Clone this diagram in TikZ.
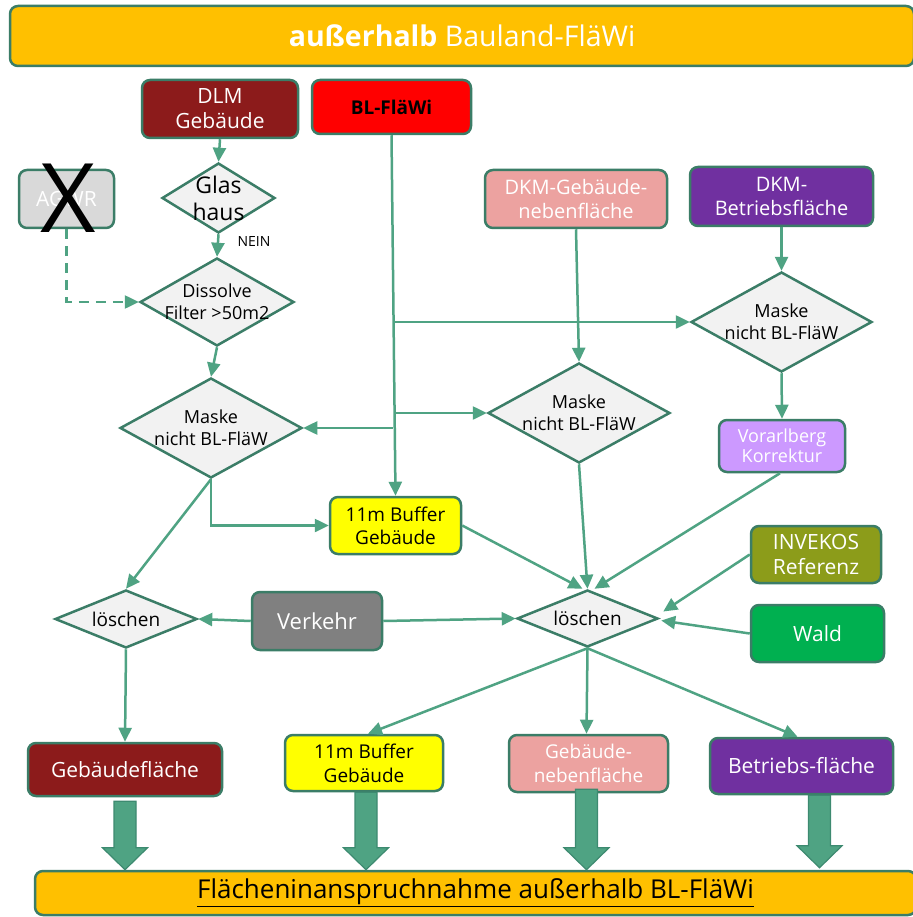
\documentclass[tikz,border=0pt]{standalone}
\usepackage{fontspec}
\setmainfont{Open Sans}
\usetikzlibrary{arrows.meta,shapes.geometric,calc}

\definecolor{bannerfill}{HTML}{FFC000}
\definecolor{edgecol}{HTML}{3B7D67}
\definecolor{wirecol}{HTML}{4FA383}
\definecolor{dlmred}{HTML}{8C1B1B}
\definecolor{blred}{HTML}{FF0000}
\definecolor{agwrgray}{HTML}{D9D9D9}
\definecolor{pinkfill}{HTML}{ECA2A0}
\definecolor{purplefill}{HTML}{7030A0}
\definecolor{lilac}{HTML}{CC99FF}
\definecolor{yellowfill}{HTML}{FFFF00}
\definecolor{roadgray}{HTML}{808080}
\definecolor{olive}{HTML}{8C9C1A}
\definecolor{forest}{HTML}{00B050}
\definecolor{diafill}{HTML}{F2F2F2}
\definecolor{fatfill}{HTML}{4FA383}
\definecolor{fatedge}{HTML}{3D8A70}

\newcommand\fsz[2]{\fontsize{#1pt}{#2pt}\selectfont}

% broad block arrow from a start point down to an end point
\newcommand\fatarrow[2]{%
  \path[fatarr] let \p1=#1, \p2=#2 in
    (\x1-11pt,\y1) -- (\x1+11pt,\y1) -- (\x1+11pt,\y2+22pt) -- (\x1+22.5pt,\y2+22pt)
    -- (\x1,\y2) -- (\x1-22.5pt,\y2+22pt) -- (\x1-11pt,\y2+22pt) -- cycle;}

\begin{document}
\begin{tikzpicture}[x=1pt,y=-1pt,
  box/.style={draw=edgecol, line width=2.5pt, rounded corners=8pt, align=center,
    inner sep=0pt, text=white, font=\fsz{21}{25}},
  dia/.style={diamond, draw=edgecol, line width=2.5pt, fill=diafill, inner sep=0pt},
  dtext/.style={align=center, inner sep=0pt, text=black, font=\fsz{18}{22}},
  arr/.style={draw=wirecol, line width=2.5pt, -{Triangle[length=14pt,width=13pt]}},
  fatarr/.style={fill=fatfill, draw=fatedge, line width=1.2pt},
]
\useasboundingbox (0,0) rectangle (912,917);
\fill[white] (0,0) rectangle (912,917);

% banners
\node[box, fill=bannerfill, minimum width=904pt, minimum height=60pt, font=\fsz{28.5}{33}]
  (top) at (462,36) {\textbf{außerhalb} Bauland-FläWi};
\node[box, fill=bannerfill, minimum width=881pt, minimum height=44pt, text=black, font=\fsz{26}{30}]
  (bot) at (475.5,893) {\underline{Flächeninanspruchnahme außerhalb BL-FläWi}};

% input boxes
\node[box, fill=dlmred, minimum width=156pt, minimum height=58pt] (dlm) at (220,109) {DLM\\Gebäude};
\node[box, fill=blred, minimum width=159pt, minimum height=54pt, text=black, font=\fsz{19}{23}\bfseries]
  (blfw) at (391.5,107) {BL-FläWi};
\node[box, fill=agwrgray, minimum width=95pt, minimum height=58pt] (agwr) at (66.5,199) {AGWR};
\node[inner sep=0pt, font=\fsz{96}{96}] (cross) at (68,198) {X};
\node[box, fill=pinkfill, minimum width=182pt, minimum height=58pt, font=\fsz{20}{24}]
  (dkmg) at (576,199) {DKM-Gebäude-\\nebenfläche};
\node[box, fill=purplefill, minimum width=183pt, minimum height=59pt, font=\fsz{20}{24}]
  (dkmb) at (781.5,196.5) {DKM-\\Betriebsfläche};
\node[box, fill=lilac, minimum width=126pt, minimum height=52pt, font=\fsz{18}{20}]
  (vk) at (782,446) {Vorarlberg\\Korrektur};
\node[box, fill=yellowfill, minimum width=131pt, minimum height=57pt, text=black, font=\fsz{19}{23}]
  (buf1) at (395.5,525.5) {11m Buffer\\Gebäude};
\node[box, fill=roadgray, minimum width=130pt, minimum height=58pt, font=\fsz{22}{26}]
  (road) at (317,621) {Verkehr};
\node[box, fill=olive, minimum width=130pt, minimum height=57pt]
  (inv) at (816,554.5) {INVEKOS\\Referenz};
\node[box, fill=forest, minimum width=133pt, minimum height=57pt] (wald) at (817.5,633.5) {Wald};

% decision diamonds
\node[dia, minimum width=113pt, minimum height=70pt] (glas) at (218.5,198) {};
\node[dtext, font=\fsz{23}{27}] (glas-t) at (218.5,198) {Glas\\haus};
\node[dia, minimum width=154pt, minimum height=88pt] (dis) at (217,302) {};
\node[dtext, font=\fsz{18}{22}] (dis-t) at (217,302) {Dissolve\\Filter >50m2};
\node[dia, minimum width=182pt, minimum height=100pt] (m1) at (211,428) {};
\node[dtext] (m1-t) at (211,428) {Maske\\nicht BL-FläW};
\node[dia, minimum width=182pt, minimum height=100pt] (m2) at (579,413) {};
\node[dtext] (m2-t) at (579,413) {Maske\\nicht BL-FläW};
\node[dia, minimum width=181pt, minimum height=100pt] (m3) at (781.5,322) {};
\node[dtext] (m3-t) at (781.5,322) {Maske\\nicht BL-FläW};
\node[dia, minimum width=142pt, minimum height=58pt] (los1) at (126,619) {};
\node[dtext, font=\fsz{19}{22}] (los1-t) at (126,619) {löschen};
\node[dia, minimum width=141pt, minimum height=57pt] (los2) at (587.5,618.5) {};
\node[dtext, font=\fsz{19}{22}] (los2-t) at (587.5,618.5) {löschen};

\node[inner sep=0pt, font=\fsz{14}{16}] (nein) at (254,242) {NEIN};

% result boxes
\node[box, fill=dlmred, minimum width=194pt, minimum height=53pt] (gf) at (125,769.5) {Gebäudefläche};
\node[box, fill=yellowfill, minimum width=158pt, minimum height=56pt, text=black, font=\fsz{19}{24}]
  (buf2) at (364,763) {11m Buffer\\Gebäude};
\node[box, fill=pinkfill, minimum width=159pt, minimum height=57pt, font=\fsz{19}{24}]
  (gnf) at (588.5,763.5) {Gebäude-\\nebenfläche};
\node[box, fill=purplefill, minimum width=183pt, minimum height=56pt] (bf) at (801.5,766) {Betriebs-fläche};

% building chain
\draw[arr] (dlm.south) -- (glas.north);
\draw[arr] (glas.south) -- (dis.north);
\draw[arr] (dis.south) -- (m1.north);
\draw[arr, dashed, dash pattern=on 10pt off 7pt] (agwr.south) |- (dis.west);

% BL-FläWi trunk and branches
\coordinate (j1) at (393,322);
\coordinate (j2) at (394,413);
\coordinate (j3) at (393,428);
\draw[arr] (blfw.south) -- (buf1.north);
\draw[arr] (j1) -- (m3.west);
\draw[arr] (j2) -- (m2.west);
\draw[arr] (j3) -- (m1.east);

% cadastre inputs
\draw[arr] (dkmg.south) -- (m2.north);
\draw[arr] (dkmb.south) -- (m3.north);
\draw[arr] (m3.south) -- (vk.north);

% into the deletion steps
\draw[arr] (m1.south) |- (buf1.west);
\draw[arr] (m1.south) -- (los1.north);
\draw[arr] (buf1.east) -- ([xshift=-5pt]los2.north);
\draw[arr] (m2.south) -- (los2.north);
\draw[arr] ([xshift=-2pt]vk.south) -- ([xshift=7pt]los2.north);
\draw[arr] (road.west) -- (los1.east);
\draw[arr] (road.east) -- (los2.west);
\draw[arr] (inv.west) -- ([xshift=4pt,yshift=7pt]los2.east);
\draw[arr] (wald.west) -- ([xshift=2pt,yshift=-2pt]los2.east);

% outputs
\draw[arr] (los1.south) -- (gf.north);
\draw[arr] (los2.south) -- ([xshift=4pt]buf2.north);
\draw[arr] (los2.south) -- ([xshift=-2pt]gnf.north);
\draw[arr] (los2.south) -- ([xshift=-4pt]bf.north);

% block arrows into the summary banner
\fatarrow{([yshift=-4pt]gf.south)}{(gf.south |- bot.north)}
\fatarrow{([xshift=2pt]buf2.south)}{([xshift=2pt]buf2.south |- bot.north)}
\fatarrow{([xshift=-2pt,yshift=4pt]gnf.south)}{([xshift=-2pt]gnf.south |- bot.north)}
\fatarrow{([xshift=18pt]bf.south)}{([xshift=18pt,yshift=2pt]bf.south |- bot.north)}
\end{tikzpicture}
\end{document}
